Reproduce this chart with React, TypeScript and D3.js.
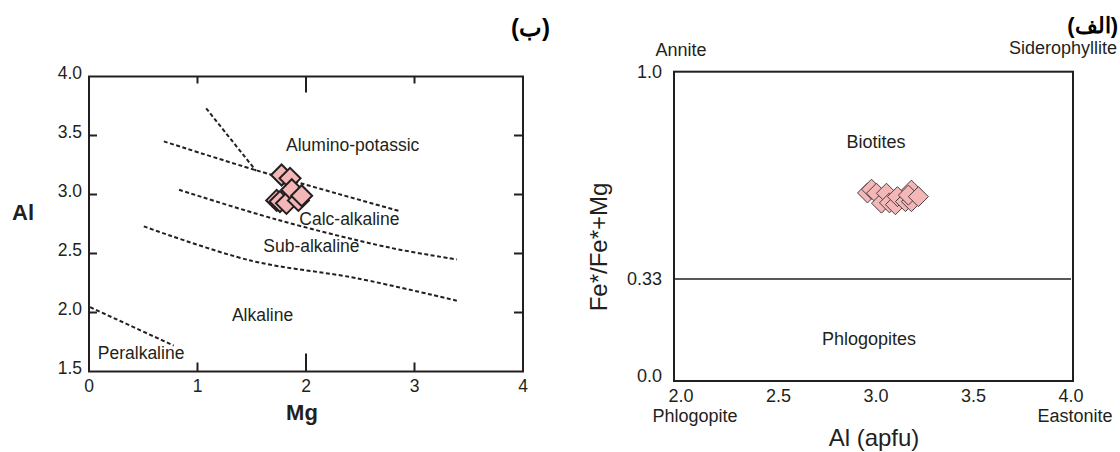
import React, { useEffect } from 'react';
import * as d3 from 'd3';

// ---------- Left chart (ب): Al vs Mg ----------
const mgTicks = [0, 1, 2, 3, 4];
const alTicks = [1.5, 2.0, 2.5, 3.0, 3.5, 4.0];
const leftMg = [1.73, 1.76, 1.82, 1.775, 1.853, 1.869, 1.93, 1.96];
const leftAl = [2.95, 2.94, 2.925, 3.165, 3.137, 3.04, 2.95, 2.99];

const lineSteep: [number, number][] = [[1.08, 3.73], [1.54, 3.2]];
const lineAluminoCalc: [number, number][] = [[0.69, 3.45], [1.56, 3.2], [2.86, 2.86]];
const lineCalcSub: [number, number][] = [[0.83, 3.04], [1.72, 2.79], [2.77, 2.55], [3.39, 2.45]];
const lineSubAlk: [number, number][] = [[0.505, 2.73], [1.49, 2.44], [2.47, 2.29], [3.39, 2.1]];
const linePeralk: [number, number][] = [[0.01, 2.045], [0.78, 1.72]];

const leftFieldNames = ['Alumino-potassic', 'Calc-alkaline', 'Sub-alkaline', 'Alkaline', 'Peralkaline'];
const leftFieldMg = [2.43, 2.4, 2.05, 1.6, 0.48];
const leftFieldAl = [3.42, 2.79, 2.56, 1.975, 1.66];

// ---------- Right chart (الف): Fe*/(Fe*+Mg) vs Al ----------
const alApfuTicks = [2.0, 2.5, 3.0, 3.5, 4.0];
const feTicks = [0.0, 0.33, 1.0];
const feTickLabels = ['0.0', '0.33', '1.0'];
const rightAl = [2.97, 2.99, 3.015, 3.04, 3.065, 3.08, 3.11, 3.12, 3.16, 3.19, 3.19, 3.175, 3.225];
const rightFe = [0.608, 0.62, 0.607, 0.575, 0.607, 0.576, 0.57, 0.596, 0.58, 0.58, 0.617, 0.601, 0.596];

const FONT = "'Liberation Sans', Arial, Helvetica, sans-serif";
const INK = '#231f20';
const PINK = '#f3b7b7';

function diamond(cx: number, cy: number, r: number) {
  return `M${cx},${cy - r}L${cx + r},${cy}L${cx},${cy + r}L${cx - r},${cy}Z`;
}

export default function App() {
  useEffect(() => {
    document.body.style.margin = '0';
  }, []);

  const xL = d3.scaleLinear().domain([0, 4]).range([89, 523]);
  const yL = d3.scaleLinear().domain([1.5, 4]).range([371.5, 76.5]);
  const lineL = d3.line<[number, number]>().x(d => xL(d[0])).y(d => yL(d[1])).curve(d3.curveCatmullRom);

  const xR = d3.scaleLinear().domain([2, 4]).range([674, 1073]);
  const yR = d3.scaleLinear().domain([0, 1]).range([381, 71.7]);
  const xRLabel = d3.scaleLinear().domain([2, 4]).range([681, 1071]);

  const fmt = d3.format('.1f');

  return (
    <svg width={1120} height={452} style={{ position: 'absolute', left: 0, top: 0, display: 'block', background: '#fff' }} fontFamily={FONT}>
      <rect width={1120} height={452} fill="#fff" />
      {/* ===== Left chart ===== */}
      <g>
        {[lineSteep, lineAluminoCalc, lineCalcSub, lineSubAlk, linePeralk].map((l, i) => (
          <path key={i} d={lineL(l) || ''} fill="none" stroke={INK} strokeWidth={2} strokeDasharray="4 2.5" />
        ))}
        {leftFieldNames.map((n, i) => (
          <text key={n} x={xL(leftFieldMg[i])} y={yL(leftFieldAl[i])} textAnchor="middle" dominantBaseline="central" fontSize={17.5} fill={INK}>{n}</text>
        ))}
        {leftMg.map((m, i) => (
          <path key={i} d={diamond(xL(m), yL(leftAl[i]), 10.5)} fill={PINK} stroke={INK} strokeWidth={2} strokeLinejoin="miter" />
        ))}
        <rect x={xL(0)} y={yL(4)} width={xL(4) - xL(0)} height={yL(1.5) - yL(4)} fill="none" stroke={INK} strokeWidth={2} />
        {mgTicks.filter(t => t > 0 && t < 4).map(t => {
          const len = t === 2 ? 18 : 9;
          return (
            <g key={t}>
              <line x1={xL(t)} x2={xL(t)} y1={yL(1.5)} y2={yL(1.5) - len} stroke={INK} strokeWidth={2} />
              <line x1={xL(t)} x2={xL(t)} y1={yL(4)} y2={yL(4) + len - 2} stroke={INK} strokeWidth={2} />
            </g>
          );
        })}
        {alTicks.filter(t => t > 1.5 && t < 4).map(t => (
          <g key={t}>
            <line x1={xL(0)} x2={xL(0) + 8} y1={yL(t)} y2={yL(t)} stroke={INK} strokeWidth={2} />
            <line x1={xL(4)} x2={xL(4) - 9} y1={yL(t)} y2={yL(t)} stroke={INK} strokeWidth={2} />
          </g>
        ))}
        {mgTicks.map(t => (
          <text key={t} x={xL(t)} y={385.5} textAnchor="middle" dominantBaseline="central" fontSize={17.5} fill={INK}>{t}</text>
        ))}
        {alTicks.map(t => (
          <text key={t} x={82} y={yL(t) - 4} textAnchor="end" dominantBaseline="central" fontSize={17.5} fill={INK}>{fmt(t)}</text>
        ))}
        <text x={xL(2) - 4} y={420} textAnchor="middle" fontSize={22} fontWeight="bold" fill={INK}>Mg</text>
        <text x={12} y={220} fontSize={22} fontWeight="bold" fill={INK}>Al</text>
        <text x={550} y={36} textAnchor="end" fontSize={24} fontWeight="bold" fill="#000">(ب)</text>
      </g>

      {/* ===== Right chart ===== */}
      <g>
        <line x1={xR(2)} x2={xR(4) - 2} y1={yR(0.33)} y2={yR(0.33)} stroke={INK} strokeWidth={1.6} />
        {rightAl.map((a, i) => (
          <path key={i} d={diamond(xR(a), yR(rightFe[i]), 10)} fill={PINK} stroke="#4a3f40" strokeWidth={1} />
        ))}
        <rect x={xR(2)} y={yR(1)} width={xR(4) - xR(2)} height={yR(0) - yR(1)} fill="none" stroke={INK} strokeWidth={2} />
        {alApfuTicks.map(t => (
          <text key={t} x={xRLabel(t)} y={396} textAnchor="middle" dominantBaseline="central" fontSize={18} fill={INK}>{fmt(t)}</text>
        ))}
        {feTicks.map((t, i) => (
          <text key={t} x={662} y={Math.min(yR(t), yR(0) - 5)} textAnchor="end" dominantBaseline="central" fontSize={18} fill={INK}>{feTickLabels[i]}</text>
        ))}
        <text x={876} y={148} textAnchor="middle" fontSize={18} fill={INK}>Biotites</text>
        <text x={869} y={344.5} textAnchor="middle" fontSize={18} fill={INK}>Phlogopites</text>
        <text x={681} y={56} textAnchor="middle" fontSize={18} fill={INK}>Annite</text>
        <text x={1009} y={54} textAnchor="start" fontSize={18} fill={INK}>Siderophyllite</text>
        <text x={695} y={421.5} textAnchor="middle" fontSize={18} fill={INK}>Phlogopite</text>
        <text x={1075} y={421.5} textAnchor="middle" fontSize={18} fill={INK}>Eastonite</text>
        <text x={874} y={446} textAnchor="middle" fontSize={24} fill={INK}>Al (apfu)</text>
        <text transform={`translate(607,247) rotate(-90)`} textAnchor="middle" fontSize={24} fill={INK}>Fe*/Fe*+Mg</text>
        <text x={1118} y={33} textAnchor="end" fontSize={22} fontWeight="bold" fill="#000">(الف)</text>
      </g>
    </svg>
  );
}
